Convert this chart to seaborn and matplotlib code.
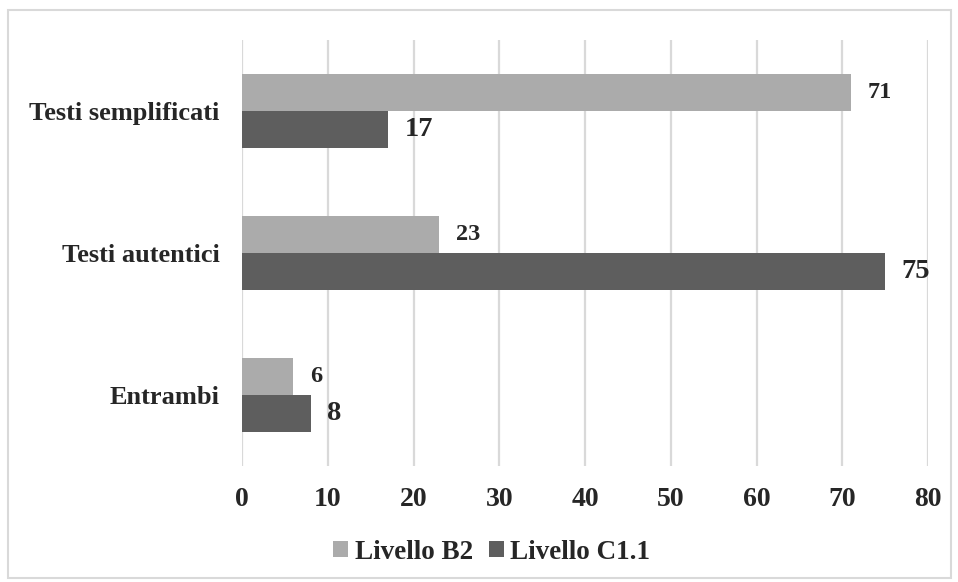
import matplotlib
matplotlib.use("Agg")
import matplotlib.pyplot as plt
from matplotlib.patches import Rectangle
import pandas as pd
import seaborn as sns

categories = ["Testi semplificati", "Testi autentici", "Entrambi"]
series_names = ["Livello B2", "Livello C1.1"]
values_b2 = [71, 23, 6]
values_c11 = [17, 75, 8]
x_ticks = [0, 10, 20, 30, 40, 50, 60, 70, 80]

colors = {"Livello B2": "#ABABAB", "Livello C1.1": "#5E5E5E"}

df = pd.DataFrame({
    "categoria": categories * 2,
    "livello": [series_names[0]] * 3 + [series_names[1]] * 3,
    "valore": values_b2 + values_c11,
})

sns.set_style("white")
plt.rcParams["font.family"] = ["Liberation Serif", "DejaVu Serif"]
plt.rcParams["font.weight"] = "bold"

W, H = 958, 582
fig = plt.figure(figsize=(W / 100, H / 100), dpi=100)
ax = fig.add_axes([242 / W, 1 - 466 / H, (928 - 242) / W, (466 - 40) / H])

sns.barplot(data=df, y="categoria", x="valore", hue="livello",
            order=categories, hue_order=series_names, palette=colors,
            orient="h", width=0.52, ax=ax, saturation=1, edgecolor="none",
            legend=True)

ax.set_xlim(0, 80)
ax.set_xticks(x_ticks)
ax.set_xticklabels([str(t) for t in x_ticks], fontsize=20, fontweight="bold")
ax.tick_params(axis="x", length=0, pad=15)
ax.tick_params(axis="y", length=0, pad=16)
for lbl in ax.get_yticklabels():
    lbl.set_fontsize(19)
    lbl.set_fontweight("bold")
ax.set_xlabel("")
ax.set_ylabel("")
ax.grid(axis="x", color="#D9D9D9", linewidth=1.6)
ax.set_axisbelow(True)
for s in ax.spines.values():
    s.set_visible(False)

label_sizes = {"Livello B2": 17.5, "Livello C1.1": 20.5}
for cont, name in zip(ax.containers, series_names):
    ax.bar_label(cont, labels=[str(int(v)) for v in cont.datavalues],
                 padding=12, fontsize=label_sizes[name], fontweight="bold")

leg = ax.legend(loc="center", bbox_to_anchor=(0.364, -0.202),
                ncol=2, frameon=False, fontsize=19.5, handlelength=0.54,
                handleheight=0.54, handletextpad=0.25, columnspacing=0.6)
for t in leg.get_texts():
    t.set_fontweight("bold")

fig.patches.append(Rectangle((8 / W, 4 / H), 943 / W, (H - 14) / H,
                             transform=fig.transFigure, fill=False,
                             edgecolor="#D9D9D9", linewidth=1.5))

fig.savefig("out.png", dpi=100)
